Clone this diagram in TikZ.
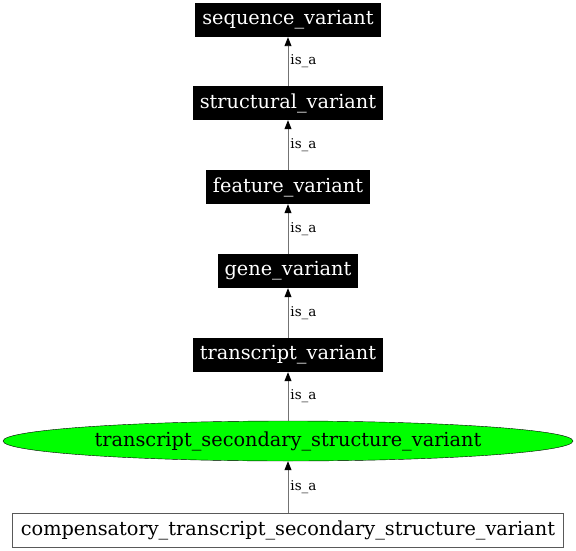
\documentclass[tikz,border=0pt]{standalone}
\usepackage{fontspec}
\setmainfont{DejaVu Serif}
\usepackage{tikz}
\usetikzlibrary{shapes.geometric,arrows.meta}

\tikzset{
  term/.style={fill=black,text=white,font=\fontsize{19.3}{21}\selectfont,minimum height=34pt,inner xsep=7pt},
  isa/.style={draw=black!55,line width=0.9pt,-{Triangle[black,length=9pt,width=7pt]}},
  isalabel/.style={right,font=\fontsize{13.5}{15}\selectfont,inner xsep=2pt}
}

\begin{document}
\begin{tikzpicture}[x=1pt,y=-1pt]
\useasboundingbox (0,0) rectangle (576,551);

   \foreach \i/\y [count=\n] in
        {sequence\_variant/20,structural\_variant/103,feature\_variant/187,gene\_variant/271,transcript\_variant/355}
           \node[term] (N\n) at (288,\y) {\i} ;

\node[ellipse,draw=black,fill=green,minimum width=570pt,minimum height=40pt,inner sep=0pt,
      font=\fontsize{19.3}{21}\selectfont] (N6) at (288,441) {transcript\_secondary\_structure\_variant};
\node[draw=black!65,line width=0.9pt,fill=white,minimum height=34pt,inner xsep=8pt,
      font=\fontsize{19.3}{21}\selectfont] (N7) at (288,530) {compensatory\_transcript\_secondary\_structure\_variant};

\draw[isa] (N2.north) -- node[isalabel]{is\_a} (N1.south);
\draw[isa] (N3.north) -- node[isalabel]{is\_a} (N2.south);
\draw[isa] (N4.north) -- node[isalabel]{is\_a} (N3.south);
\draw[isa] (N5.north) -- node[isalabel]{is\_a} (N4.south);
\draw[isa] (N6.north) -- node[isalabel]{is\_a} (N5.south);
\draw[isa] (N7.north) -- node[isalabel]{is\_a} (N6.south);
\end{tikzpicture}
\end{document}
